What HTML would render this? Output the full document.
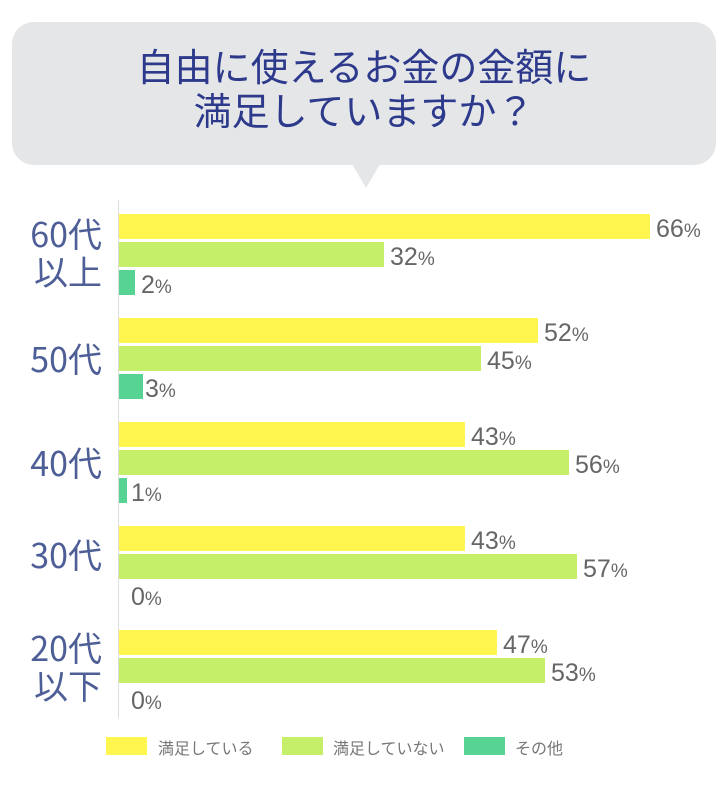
<!DOCTYPE html>
<html><head><meta charset="utf-8"><style>
body{margin:0;width:726px;height:800px;background:#fff;position:relative;overflow:hidden;font-family:"Liberation Sans","Noto Sans CJK JP",sans-serif}
.a{position:absolute}
.b{position:absolute;height:25px}
.y{background:#fff650}.g{background:#c5ef68}.t{background:#57d493}
.v{position:absolute;font-size:25px;color:#666;line-height:25px}
.v small{font-size:19px}
.c{position:absolute;right:624px;text-align:right;color:#4e5e96;font-size:34px;line-height:38px;font-family:"Noto Sans CJK JP",sans-serif}
.l{position:absolute;top:737px;width:41px;height:18px}
.lt{position:absolute;top:735px;font-size:16px;color:#777;font-family:"Noto Sans CJK JP",sans-serif}
</style></head><body>
<div class="a" style="left:12px;top:22px;width:704px;height:143px;background:#e5e6e8;border-radius:22px"></div>
<div class="a" style="left:352px;top:164px;width:0;height:0;border-left:14px solid transparent;border-right:14px solid transparent;border-top:24px solid #e5e6e8"></div>
<div class="a" style="left:12px;top:43px;width:704px;text-align:center;color:#2d3a8c;font-size:38px;line-height:44px;font-family:'Noto Sans CJK JP',sans-serif">自由に使えるお金の金額に<br>満足していますか？</div>
<div class="a" style="left:118px;top:200px;width:1px;height:518px;background:#ddd"></div>

<div class="c" style="top:214px">60代<br>以上</div>
<div class="c" style="top:339px">50代</div>
<div class="c" style="top:443px">40代</div>
<div class="c" style="top:535px">30代</div>
<div class="c" style="top:628px">20代<br>以下</div>

<div class="b y" style="left:119px;top:214px;width:531px"></div><div class="v" style="left:656px;top:217px">66<small>%</small></div>
<div class="b g" style="left:119px;top:242px;width:265px"></div><div class="v" style="left:390px;top:245px">32<small>%</small></div>
<div class="b t" style="left:119px;top:270px;width:16px"></div><div class="v" style="left:141px;top:273px">2<small>%</small></div>

<div class="b y" style="left:119px;top:318px;width:419px"></div><div class="v" style="left:544px;top:321px">52<small>%</small></div>
<div class="b g" style="left:119px;top:346px;width:362px"></div><div class="v" style="left:487px;top:349px">45<small>%</small></div>
<div class="b t" style="left:119px;top:374px;width:24px"></div><div class="v" style="left:145px;top:377px">3<small>%</small></div>

<div class="b y" style="left:119px;top:422px;width:346px"></div><div class="v" style="left:471px;top:425px">43<small>%</small></div>
<div class="b g" style="left:119px;top:450px;width:450px"></div><div class="v" style="left:575px;top:453px">56<small>%</small></div>
<div class="b t" style="left:119px;top:478px;width:8px"></div><div class="v" style="left:131px;top:481px">1<small>%</small></div>

<div class="b y" style="left:119px;top:526px;width:346px"></div><div class="v" style="left:471px;top:529px">43<small>%</small></div>
<div class="b g" style="left:119px;top:554px;width:458px"></div><div class="v" style="left:583px;top:557px">57<small>%</small></div>
<div class="v" style="left:131px;top:585px">0<small>%</small></div>

<div class="b y" style="left:119px;top:630px;width:378px"></div><div class="v" style="left:503px;top:633px">47<small>%</small></div>
<div class="b g" style="left:119px;top:658px;width:426px"></div><div class="v" style="left:551px;top:661px">53<small>%</small></div>
<div class="v" style="left:131px;top:689px">0<small>%</small></div>

<div class="l y" style="left:106px"></div><div class="lt" style="left:158px">満足している</div>
<div class="l g" style="left:282px"></div><div class="lt" style="left:333px">満足していない</div>
<div class="l t" style="left:464px"></div><div class="lt" style="left:515px">その他</div>
</body></html>
